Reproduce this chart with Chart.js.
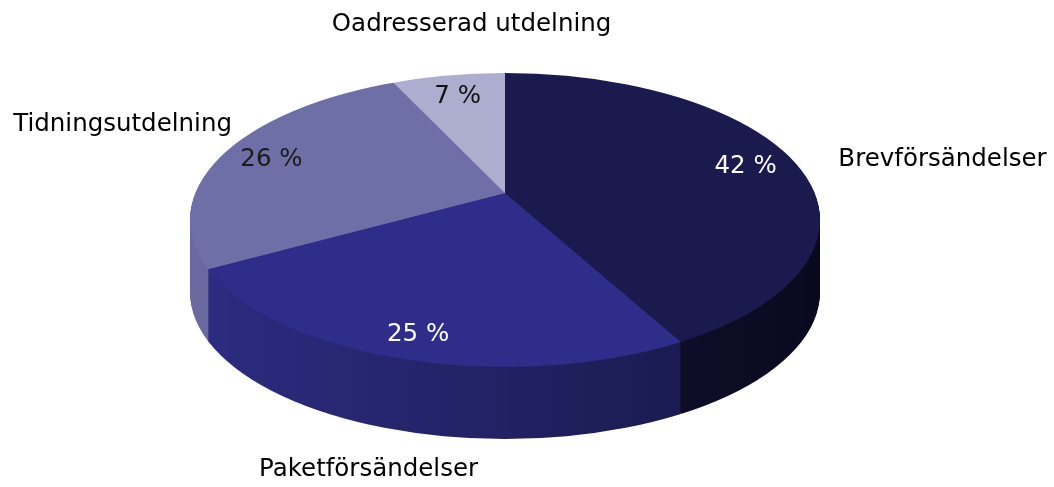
<!DOCTYPE html>
<html><head><meta charset="utf-8">
<script src="https://cdn.jsdelivr.net/npm/chart.js@4.4.1/dist/chart.umd.min.js"></script>
<style>html,body{margin:0;padding:0;background:#fff;overflow:hidden}canvas{display:block}</style>
</head><body>
<canvas id="c" width="1054" height="487"></canvas>
<script>
// ---- data ----
const categories = ['Brevförsändelser', 'Paketförsändelser', 'Tidningsutdelning', 'Oadresserad utdelning'];
const shares = [42, 25, 26, 7];

// ---- styles ----
const topColors = ['#1b1a4f', '#2e2e8a', '#6f6fa7', '#adadcf'];
const sideColors = [['#1c1c4c', '#09091e'], ['#2c2c82', '#161644'], ['#6a6aa0', '#4a4a78'], ['#9c9cc0', '#7a7aa0']];
const pctColors = ['#ffffff', '#ffffff', '#1a1a1a', '#111111'];
const nameOffsets = [[47, 1, 'left'], [-33, 111, 'center'], [5, -26, 'right'], [23, -51, 'center']];
const VIEW = {faceX: 505, faceY: 220, rx: 315, ry: 147, apexX: 505, apexY: 193, depth: 72,
              spreadA: 410, spreadB: 191, labelFrac: 0.84, labelDy: 2, gradX1: 190, gradX2: 820};

function rimT(ux, uy) {
  const px = (VIEW.apexX - VIEW.faceX) / VIEW.rx, py = (VIEW.apexY - VIEW.faceY) / VIEW.ry;
  const qx = ux / VIEW.rx, qy = uy / VIEW.ry;
  const a = qx * qx + qy * qy, b = 2 * (px * qx + py * qy), c = px * px + py * py - 1;
  return (-b + Math.sqrt(b * b - 4 * a * c)) / (2 * a);
}

const pie3d = {
  id: 'pie3d',
  beforeDatasetsDraw(chart) {
    const ctx = chart.ctx;
    const arcs = chart.getDatasetMeta(0).data;
    if (!arcs.length) return false;
    const cx = arcs[0].x, cy = arcs[0].y, R = arcs[0].outerRadius;
    const sx = VIEW.spreadA / R, sy = VIEW.spreadB / R;
    const gx1 = cx + (VIEW.gradX1 - VIEW.apexX) / sx, gx2 = cx + (VIEW.gradX2 - VIEW.apexX) / sx;
    const sideFills = sideColors.map(c => {
      const g = ctx.createLinearGradient(gx1, 0, gx2, 0);
      g.addColorStop(0, c[0]); g.addColorStop(1, c[1]);
      return g;
    });
    const drawLayer = (dy, fills) => {
      ctx.save();
      ctx.beginPath();
      ctx.ellipse(VIEW.faceX, VIEW.faceY + dy, VIEW.rx, VIEW.ry, 0, 0, Math.PI * 2);
      ctx.clip();
      ctx.translate(VIEW.apexX, VIEW.apexY + dy);
      ctx.scale(sx, sy);
      ctx.translate(-cx, -cy);
      arcs.forEach((arc, i) => {
        const proxy = Object.create(arc);
        proxy.options = Object.assign({}, arc.options, {backgroundColor: fills[i], borderWidth: 0});
        arc.draw.call(proxy, ctx);
      });
      ctx.restore();
    };
    for (let d = VIEW.depth; d >= 1; d--) drawLayer(d, sideFills);
    drawLayer(0, topColors);
    return false;
  },
  afterDraw(chart) {
    const ctx = chart.ctx;
    const arcs = chart.getDatasetMeta(0).data;
    const total = shares.reduce((a, b) => a + b, 0);
    ctx.save();
    ctx.font = '24.5px "DejaVu Sans", Verdana, sans-serif';
    ctx.textBaseline = 'middle';
    arcs.forEach((arc, i) => {
      const theta = (arc.startAngle + arc.endAngle) / 2 + Math.PI / 2;
      const ux = VIEW.spreadA * Math.sin(theta), uy = -VIEW.spreadB * Math.cos(theta);
      const t = rimT(ux, uy);
      const lx = VIEW.apexX + ux * t * VIEW.labelFrac, ly = VIEW.apexY + uy * t * VIEW.labelFrac + VIEW.labelDy;
      ctx.fillStyle = pctColors[i];
      ctx.textAlign = 'center';
      ctx.fillText(Math.round(shares[i] / total * 100) + ' %', lx, ly);
      const rxp = VIEW.apexX + ux * t, ryp = VIEW.apexY + uy * t;
      const o = nameOffsets[i];
      ctx.fillStyle = '#000000';
      ctx.textAlign = o[2];
      ctx.fillText(categories[i], rxp + o[0], ryp + o[1]);
    });
    ctx.restore();
  }
};

new Chart(document.getElementById('c'), {
  type: 'pie',
  data: {
    labels: categories,
    datasets: [{data: shares, backgroundColor: topColors, borderWidth: 0}]
  },
  options: {
    responsive: false,
    animation: false,
    events: [],
    plugins: {legend: {display: false}, tooltip: {enabled: false}}
  },
  plugins: [pie3d]
});
</script>
</body></html>
